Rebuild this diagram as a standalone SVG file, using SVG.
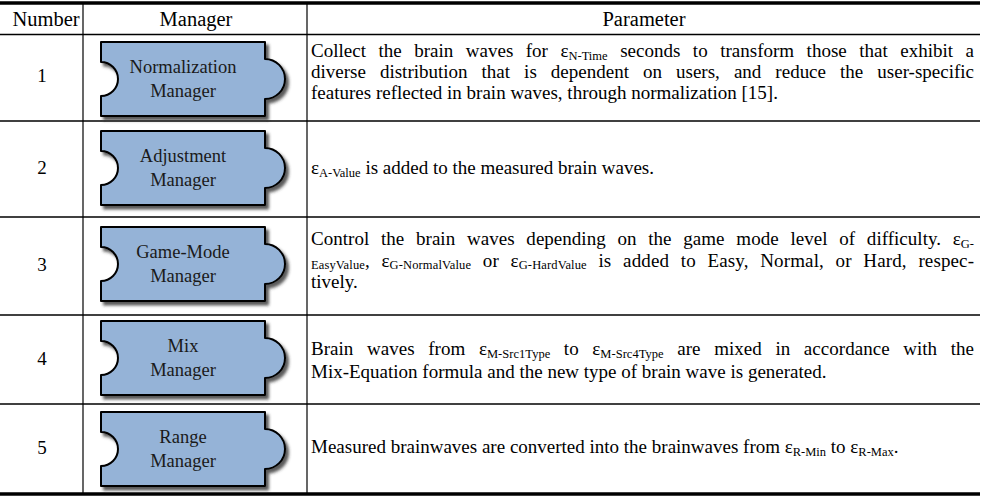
<svg xmlns="http://www.w3.org/2000/svg" width="987" height="497" viewBox="0 0 987 497">
  <style>
    .t { font-family: "Liberation Serif", "Times New Roman", serif; font-size: 19px; fill: #000; }
    .h { font-size: 20.5px; }
    .c { text-anchor: middle; }
    .sub { font-size: 12.5px; }
    .pt { font-family: "Liberation Serif", "Times New Roman", serif; font-size: 18.5px; fill: #1a1a1a; text-anchor: middle; }
    .thick { stroke: #000; stroke-width: 3.5; }
    .thin { stroke: #000; stroke-width: 1.4; }
    .vline { stroke: #000; stroke-width: 1.2; }
    .piece { fill: #95b3d7; stroke: #000; stroke-width: 2; stroke-linejoin: round; filter: url(#shadow); }
  </style>
  <defs>
    <filter id="shadow" x="-10%" y="-10%" width="125%" height="135%">
      <feDropShadow dx="3" dy="3.5" stdDeviation="1.6" flood-color="#333" flood-opacity="0.8"/>
    </filter>
    <!-- puzzle-piece outline: notch on the left, tab on the right -->
    <path id="piece" d="M0,0 H164 V17 A20,20 0 0 1 164,57 V74 H0 V54 A17,17 0 0 0 0,20 Z"/>
  </defs>

  <rect width="987" height="497" fill="#fff"/>

  <!-- table rules -->
  <g id="rules">
    <line class="thick" x1="0" y1="3" x2="980" y2="3"/>
    <line class="thin" x1="0" y1="34.5" x2="980" y2="34.5"/>
    <line class="thin" x1="0" y1="121" x2="980" y2="121"/>
    <line class="thin" x1="0" y1="217" x2="980" y2="217"/>
    <line class="thin" x1="0" y1="315" x2="980" y2="315"/>
    <line class="thin" x1="0" y1="404" x2="980" y2="404"/>
    <line class="thick" x1="0" y1="494" x2="980" y2="494"/>
    <line class="vline" x1="83" y1="4" x2="83" y2="493"/>
    <line class="vline" x1="307" y1="4" x2="307" y2="493"/>
  </g>

  <!-- header -->
  <g id="header">
    <text class="t h c" x="46" y="26">Number</text>
    <text class="t h c" x="196" y="26">Manager</text>
    <text class="t h c" x="644" y="26">Parameter</text>
  </g>

  <!-- row 1 -->
  <g id="row1">
    <text class="t c" x="42" y="82">1</text>
    <g id="normalization-manager" transform="translate(101,42)">
      <use href="#piece" class="piece"/>
      <text class="pt" x="82" y="31">Normalization</text>
      <text class="pt" x="82" y="55">Manager</text>
    </g>
    <text class="t" x="311" y="57" word-spacing="7.7" textLength="663" lengthAdjust="spacing">Collect the brain waves for ε<tspan class="sub" dy="2.5">N-Time</tspan><tspan dy="-2.5"> seconds to transform those that exhibit a</tspan></text>
    <text class="t" x="311" y="78" word-spacing="9.3" textLength="663" lengthAdjust="spacing">diverse distribution that is dependent on users, and reduce the user-specific</text>
    <text class="t" x="311" y="99">features reflected in brain waves, through normalization [15].</text>
  </g>

  <!-- row 2 -->
  <g id="row2">
    <text class="t c" x="42" y="174">2</text>
    <g id="adjustment-manager" transform="translate(101,131)">
      <use href="#piece" class="piece"/>
      <text class="pt" x="82" y="31">Adjustment</text>
      <text class="pt" x="82" y="55">Manager</text>
    </g>
    <text class="t" x="311" y="174">ε<tspan class="sub" dy="2.5">A-Value</tspan><tspan dy="-2.5"> is added to the measured brain waves.</tspan></text>
  </g>

  <!-- row 3 -->
  <g id="row3">
    <text class="t c" x="42" y="271">3</text>
    <g id="game-mode-manager" transform="translate(101,227)">
      <use href="#piece" class="piece"/>
      <text class="pt" x="82" y="31">Game-Mode</text>
      <text class="pt" x="82" y="55">Manager</text>
    </g>
    <text class="t" x="311" y="245" word-spacing="7" textLength="663" lengthAdjust="spacing">Control the brain waves depending on the game mode level of difficulty. ε<tspan class="sub" dy="2.5">G-</tspan></text>
    <text class="t" x="311" y="266.5" word-spacing="6.8" textLength="663" lengthAdjust="spacing"><tspan class="sub" dy="2.5">EasyValue</tspan><tspan dy="-2.5">, ε</tspan><tspan class="sub" dy="2.5">G-NormalValue</tspan><tspan dy="-2.5"> or ε</tspan><tspan class="sub" dy="2.5">G-HardValue</tspan><tspan dy="-2.5"> is added to Easy, Normal, or Hard, respec-</tspan></text>
    <text class="t" x="311" y="288">tively.</text>
  </g>

  <!-- row 4 -->
  <g id="row4">
    <text class="t c" x="42" y="365">4</text>
    <g id="mix-manager" transform="translate(101,321)">
      <use href="#piece" class="piece"/>
      <text class="pt" x="82" y="31">Mix</text>
      <text class="pt" x="82" y="55">Manager</text>
    </g>
    <text class="t" x="311" y="355" word-spacing="8.8" textLength="663" lengthAdjust="spacing">Brain waves from ε<tspan class="sub" dy="2.5">M-Src1Type</tspan><tspan dy="-2.5"> to ε</tspan><tspan class="sub" dy="2.5">M-Src4Type</tspan><tspan dy="-2.5"> are mixed in accordance with the</tspan></text>
    <text class="t" x="311" y="378">Mix-Equation formula and the new type of brain wave is generated.</text>
  </g>

  <!-- row 5 -->
  <g id="row5">
    <text class="t c" x="42" y="454">5</text>
    <g id="range-manager" transform="translate(101,412)">
      <use href="#piece" class="piece"/>
      <text class="pt" x="82" y="31">Range</text>
      <text class="pt" x="82" y="55">Manager</text>
    </g>
    <text class="t" x="311" y="453">Measured brainwaves are converted into the brainwaves from ε<tspan class="sub" dy="2.5">R-Min</tspan><tspan dy="-2.5"> to ε</tspan><tspan class="sub" dy="2.5">R-Max</tspan><tspan dy="-2.5">.</tspan></text>
  </g>
</svg>
